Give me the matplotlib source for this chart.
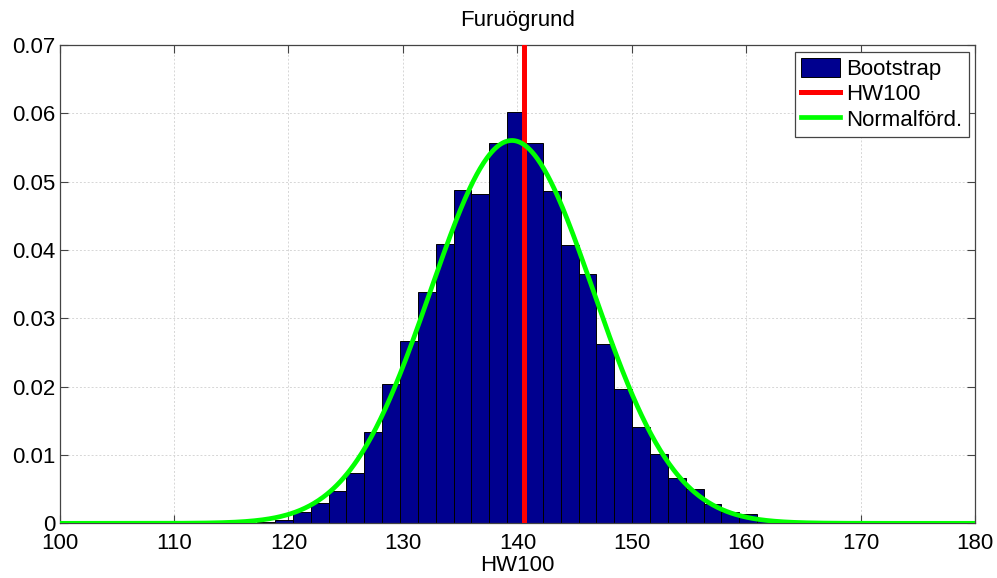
import numpy as np
import matplotlib
matplotlib.use("Agg")
import matplotlib.pyplot as plt
from matplotlib.patches import Patch
from matplotlib.lines import Line2D

# ---- data ----
bin_start = 115.705
bin_width = 1.56
density = [0.0, 0.0002, 0.0005, 0.0017, 0.0030, 0.0048, 0.0073, 0.0134, 0.0204,
           0.0267, 0.0339, 0.0409, 0.0488, 0.0482, 0.0557, 0.0602, 0.0557,
           0.0486, 0.0408, 0.0365, 0.0263, 0.0196, 0.0141, 0.0102, 0.0066,
           0.0050, 0.0028, 0.0017, 0.0013, 0.0007, 0.0003, 0.0001]
hw100 = 140.55
norm_mean = 139.52
norm_std = 7.12
x_range = (100, 180)
y_range = (0, 0.07)
x_ticks = [100, 110, 120, 130, 140, 150, 160, 170, 180]
y_ticks = [0, 0.01, 0.02, 0.03, 0.04, 0.05, 0.06, 0.07]
y_ticklabels = ["0", "0.01", "0.02", "0.03", "0.04", "0.05", "0.06", "0.07"]
title = "Furuögrund"
xlabel = "HW100"
legend_labels = ["Bootstrap", "HW100", "Normalförd."]

plt.rcParams['font.family'] = ['Liberation Sans', 'DejaVu Sans']
FS = 16

fig = plt.figure(figsize=(9.97, 5.78), dpi=100)
ax = fig.add_axes([0.0597, 0.0946, 0.9185, 0.8275])

edges = bin_start + bin_width * np.arange(len(density))
bar_color = (0, 0, 0.56)
ax.bar(edges, density, width=bin_width, align='edge', color=bar_color,
       edgecolor='black', linewidth=0.7, zorder=2)

ax.plot([hw100, hw100], list(y_range), color=(1, 0, 0), linewidth=3.6, zorder=3)

xs = np.linspace(x_range[0], x_range[1], 800)
pdf = np.exp(-0.5 * ((xs - norm_mean) / norm_std) ** 2) / (norm_std * np.sqrt(2 * np.pi))
ax.plot(xs, pdf, color=(0, 1, 0), linewidth=3.4, zorder=4)

ax.set_xlim(*x_range)
ax.set_ylim(*y_range)
ax.set_xticks(x_ticks)
ax.set_yticks(y_ticks)
ax.set_yticklabels(y_ticklabels)
ax.tick_params(direction='in', length=5.5, width=0.8, color='#444444',
               top=True, right=True, labelsize=FS)
ax.tick_params(axis='x', pad=7)
ax.tick_params(axis='y', pad=3.2)
ax.grid(True, linestyle=(0, (2, 2)), color='#d6d6d6', linewidth=0.7, zorder=0)
ax.set_axisbelow(True)
for s in ax.spines.values():
    s.set_color('#444444')
    s.set_linewidth(0.9)

ax.set_title(title, fontsize=FS, pad=14)
ax.set_xlabel(xlabel, fontsize=FS, labelpad=0.5)

handles = [Patch(facecolor=bar_color, edgecolor='black', linewidth=0.7),
           Line2D([], [], color=(1, 0, 0), linewidth=3.6),
           Line2D([], [], color=(0, 1, 0), linewidth=3.4)]
leg = ax.legend(handles, legend_labels, loc='upper right', fontsize=FS,
                fancybox=False, framealpha=1, edgecolor='#444444',
                handlelength=1.75, handleheight=0.9, handletextpad=0.25,
                labelspacing=0.15, borderpad=0.3, borderaxespad=0.3)
leg.get_frame().set_linewidth(0.9)
leg.set_zorder(10)

fig.savefig("out.png", dpi=100)
